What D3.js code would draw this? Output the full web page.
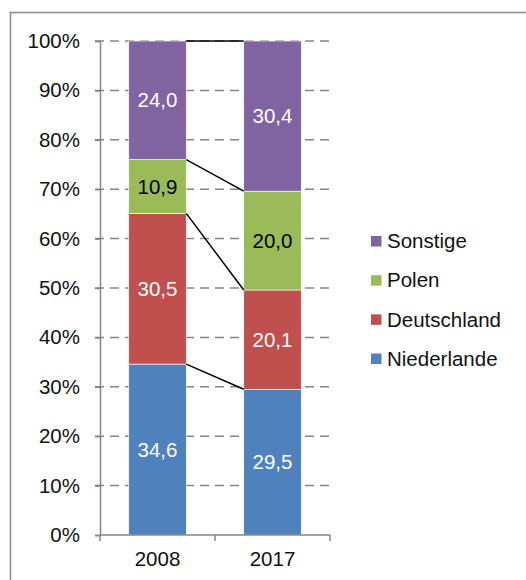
<!DOCTYPE html>
<html><head><meta charset="utf-8">
<script src="https://cdn.jsdelivr.net/npm/d3@7"></script>
<style>body{margin:0;background:#fff}svg{display:block}text{font-family:"Liberation Sans",Arial,sans-serif}</style>
</head><body>
<svg id="c" width="526" height="580"></svg>
<script>
const years = ["2008", "2017"];
const seriesNames = ["Niederlande", "Deutschland", "Polen", "Sonstige"];
const niederlande = [34.6, 29.5];
const deutschland = [30.5, 20.1];
const polen = [10.9, 20.0];
const sonstige = [24.0, 30.4];
const colors = ["#4F81BD", "#C0504D", "#9BBB59", "#8064A2"];
const labelColors = ["#fff", "#fff", "#000", "#fff"];
const yTicks = [0, 10, 20, 30, 40, 50, 60, 70, 80, 90, 100];

const values = [niederlande, deutschland, polen, sonstige];
const rows = years.map((y, i) => {
  const r = {year: y};
  seriesNames.forEach((s, k) => r[s] = values[k][i]);
  return r;
});
const stacked = d3.stack().keys(seriesNames)(rows);

const svg = d3.select("#c");
const FS = 20.5;
// outer border
svg.append("rect").attr("x", 10.5).attr("y", 12.5).attr("width", 600).attr("height", 700)
  .attr("fill", "none").attr("stroke", "#898989").attr("stroke-width", 1.5);

const x = d3.scaleBand().domain(years).range([100, 330]).paddingInner(0.5).paddingOuter(0.25);
const y = d3.scaleLinear().domain([0, 100]).range([535, 41]);

// gridlines
svg.append("g").selectAll("line").data(yTicks.filter(t => t > 0)).join("line")
  .attr("x1", 95).attr("x2", 330).attr("y1", d => y(d)).attr("y2", d => y(d))
  .attr("stroke", "#868686").attr("stroke-width", 1.5).attr("stroke-dasharray", "9,6");

// y axis
const yAxis = svg.append("g").attr("transform", "translate(100,0)")
  .call(d3.axisLeft(y).tickValues(yTicks).tickSize(5).tickFormat(d => d + "%"));
yAxis.select(".domain").attr("stroke", "#868686").attr("stroke-width", 1.5);
yAxis.selectAll(".tick line").attr("stroke", "#868686").attr("stroke-width", 1.5);
yAxis.selectAll(".tick text").attr("font-size", FS).attr("fill", "#111").attr("x", -20)
  .attr("font-family", "Liberation Sans, Arial, sans-serif");

// bars
const g = svg.append("g");
stacked.forEach((layer, k) => {
  g.selectAll(null).data(layer).join("rect")
    .attr("x", d => x(d.data.year)).attr("width", x.bandwidth())
    .attr("y", d => y(d[1])).attr("height", d => y(d[0]) - y(d[1]))
    .attr("fill", colors[k]).attr("stroke", "#fff").attr("stroke-width", 0.6);
});

// series lines
stacked.forEach(layer => {
  svg.append("line")
    .attr("x1", x(years[0]) + x.bandwidth()).attr("y1", y(layer[0][1]))
    .attr("x2", x(years[1])).attr("y2", y(layer[1][1]))
    .attr("stroke", "#000").attr("stroke-width", 1.5);
});

// x axis
const xAxisScale = d3.scaleLinear().domain([0, 2]).range([100, 330]);
svg.append("line").attr("x1", 100).attr("x2", 330).attr("y1", 535).attr("y2", 535)
  .attr("stroke", "#868686").attr("stroke-width", 1.5);
svg.append("g").selectAll("line").data([0, 1, 2]).join("line")
  .attr("x1", d => xAxisScale(d)).attr("x2", d => xAxisScale(d)).attr("y1", 535).attr("y2", 541)
  .attr("stroke", "#868686").attr("stroke-width", 1.5);
svg.append("g").selectAll("text").data(years).join("text")
  .attr("x", d => x(d) + x.bandwidth() / 2).attr("y", 559).attr("dy", "0.35em")
  .attr("text-anchor", "middle").attr("font-size", FS).attr("fill", "#111").text(d => d);

// data labels
stacked.forEach((layer, k) => {
  svg.append("g").selectAll("text").data(layer).join("text")
    .attr("x", d => x(d.data.year) + x.bandwidth() / 2)
    .attr("y", d => y((d[0] + d[1]) / 2)).attr("dy", "0.35em")
    .attr("text-anchor", "middle").attr("font-size", FS).attr("fill", labelColors[k])
    .text(d => d3.format(".1f")(d[1] - d[0]).replace(".", ","));
});

// legend
const legendOrder = seriesNames.map((s, k) => ({name: s, color: colors[k]})).reverse();
const ly = d3.scalePoint().domain(legendOrder.map(d => d.name)).range([241, 358.5]);
const lg = svg.append("g");
lg.selectAll("rect").data(legendOrder).join("rect")
  .attr("x", 371).attr("y", d => ly(d.name) - 5).attr("width", 10.5).attr("height", 10.5)
  .attr("fill", d => d.color);
lg.selectAll("text").data(legendOrder).join("text")
  .attr("x", 387).attr("y", d => ly(d.name)).attr("dy", "0.35em")
  .attr("font-size", FS).attr("fill", "#111").text(d => d.name);
</script>
</body></html>
